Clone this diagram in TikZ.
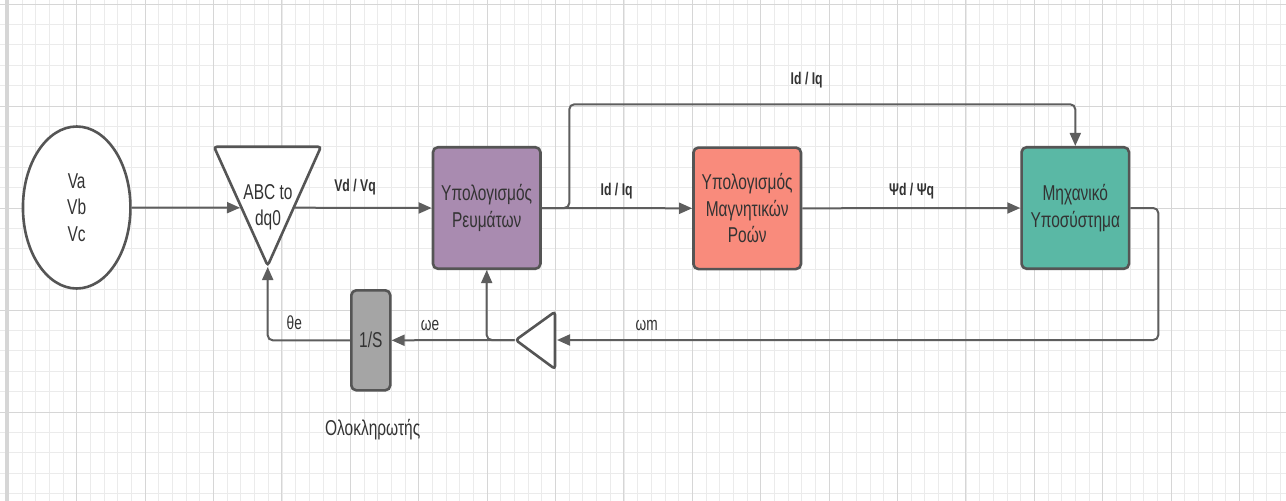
\documentclass[tikz,border=0pt]{standalone}
\usepackage{fontspec}
\setmainfont{Liberation Sans}[FakeStretch=0.72]
\usetikzlibrary{arrows.meta,shapes.geometric}

\definecolor{bord}{HTML}{555555}
\definecolor{wirec}{HTML}{5E5E5E}
\definecolor{txt}{HTML}{333333}
\definecolor{gmin}{HTML}{EBEBEB}
\definecolor{gmaj}{HTML}{D6D6D6}
\definecolor{purpfill}{HTML}{A98BB0}
\definecolor{salmfill}{HTML}{F98B7C}
\definecolor{mechfill}{HTML}{5AB8A5}
\definecolor{intfill}{HTML}{A5A5A5}

\newcommand\blockfont{\fontsize{21.5}{26.5}\selectfont}
\newcommand\lblfont{\fontsize{19}{22}\selectfont}
\newcommand\boldlblfont{\fontsize{17}{20}\selectfont\bfseries}

\begin{document}
\begin{tikzpicture}[x=1pt,y=-1pt,
  shp/.style={draw=bord, line width=2.6, fill=white, rounded corners=3},
  blk/.style={draw=bord, line width=2.6, rounded corners=5, inner sep=0,
    minimum width=107.5, minimum height=121.5, align=center,
    font=\blockfont, text=txt},
  srcnode/.style={ellipse, draw=bord, line width=2.6, fill=white, inner sep=0,
    minimum width=107.5, minimum height=162, align=center,
    font=\blockfont, text=txt},
  wire/.style={draw=wirec, line width=2},
  arr/.style={wire, -{Triangle[length=13pt,width=11pt]}},
  lbl/.style={font=\lblfont, text=txt},
  blbl/.style={font=\boldlblfont, text=txt},
  txtnode/.style={font=\blockfont, text=txt, align=center, inner sep=0}]

\useasboundingbox (0,0) rectangle (1286,501);
\fill[white] (0,0) rectangle (1286,501);

% background grid
\foreach \i in {0,...,93} {
  \pgfmathsetmacro\xx{8.3+13.68*\i}
  \draw[gmin, line width=0.8] (\xx,0) -- (\xx,501);
}
\foreach \i in {0,...,24} {
  \pgfmathsetmacro\yy{4+20.4*\i}
  \draw[gmin, line width=0.8] (0,\yy) -- (1286,\yy);
}
\foreach \i in {0,...,18} {
  \pgfmathsetmacro\xx{8.3+68.4*\i}
  \draw[gmaj, line width=1] (\xx,0) -- (\xx,501);
}
\foreach \i in {0,...,4} {
  \pgfmathsetmacro\yy{4+102*\i}
  \draw[gmaj, line width=1] (0,\yy) -- (1286,\yy);
}
\draw[gmaj, line width=3] (6,0) -- (6,501);

% source
\node[srcnode] (src) at (76.7,207.5) {Va\\Vb\\Vc};

% abc -> dq0 transform
\draw[shp] (214,146.7) -- (321,146.7) -- (267.7,265.7) -- cycle;
\node[txtnode] (abc) at (268,207) {ABC to\\dq0};
\coordinate (abcin) at (240,207.7);
\coordinate (abcout) at (294.5,207.7);
\coordinate (abcbot) at (267.7,267);

% blocks
\node[blk, fill=purpfill] (reum) at (486.7,208) {Υπολογισμός\\Ρευμάτων};
\node[blk, fill=salmfill] (magn) at (747.2,208.3) {Υπολογισμός\\Μαγνητικών\\Ροών};
\node[blk, fill=mechfill] (mech) at (1075.3,208) {Μηχανικό\\Υποσύστημα};
\node[blk, fill=intfill, minimum width=39, minimum height=100] (integ) at (370.8,340.3) {1/S};

% gain
\draw[shp] (515.7,340) -- (555,311.7) -- (555,369) -- cycle;
\coordinate (gainin) at (557,340);
\coordinate (gainout) at (514.5,340);

% helper corners
\coordinate (tl) at (569.3,104.3);
\coordinate (rd) at (1158.3,340);

% connectors
\draw[arr] (src.east) -- (abcin);
\draw[arr] (abcout) -- (reum.west);
\draw[arr] (reum.east) -- (magn.west);
\draw[arr, rounded corners=5] (reum.east) -| (tl) -| (mech.north);
\draw[arr] (magn.east) -- (mech.west);
\draw[arr, rounded corners=5] (mech.east) -| (rd) -- (gainin);
\draw[arr] (gainout) -- (integ.east);
\draw[arr, rounded corners=5] (gainout) -| (reum.south);
\draw[arr, rounded corners=5] (integ.west) -| (abcbot);

% labels
\node[blbl] (lvd) at (355,187) {Vd / Vq};
\node[blbl] (lid) at (616.7,190.7) {Id / Iq};
\node[blbl] (lidt) at (806.7,80) {Id / Iq};
\node[blbl] (lpsi) at (911.7,190.7) {Ψd / Ψq};
\node[lbl] (lwm) at (646.7,325) {ωm};
\node[lbl] (lwe) at (430,325) {ωe};
\node[lbl] (lth) at (294.3,322.7) {θe};
\node[txtnode] (lint) at (372.7,430) {Ολοκληρωτής};

\end{tikzpicture}
\end{document}
